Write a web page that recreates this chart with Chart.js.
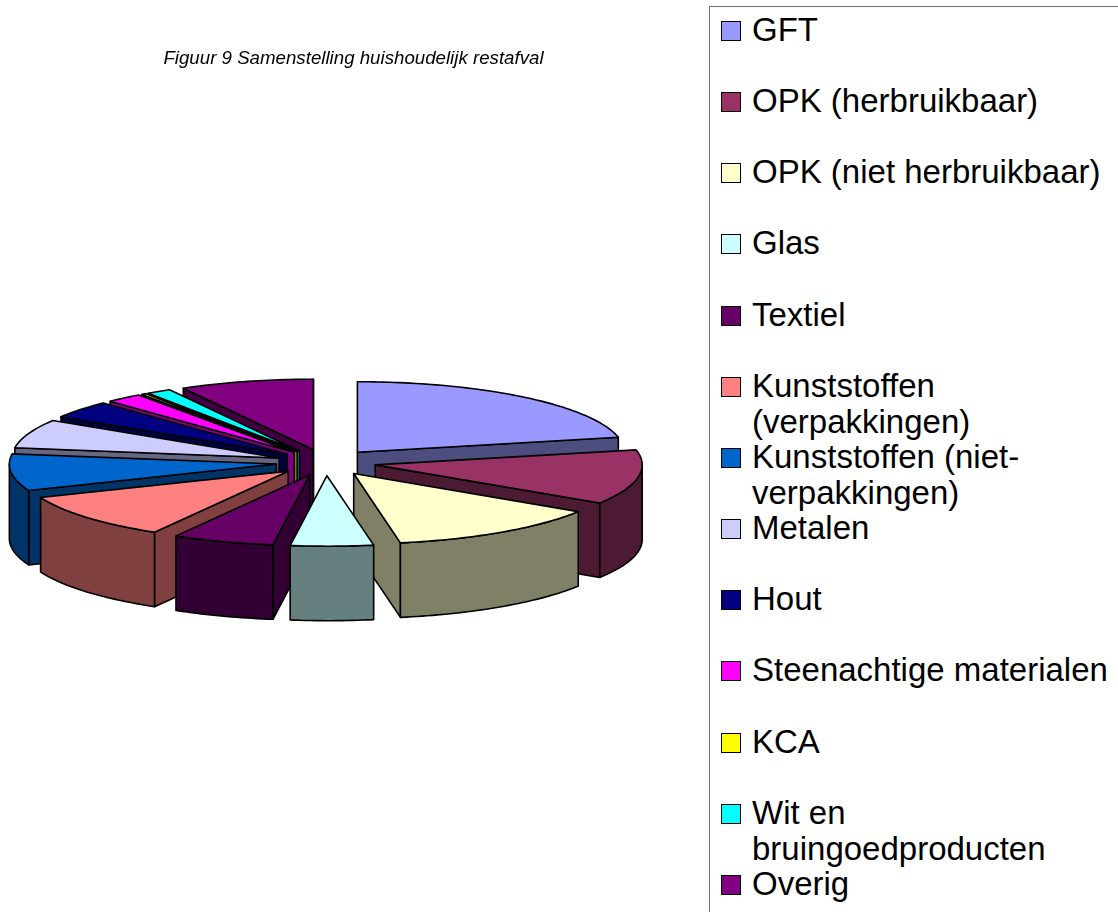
<!DOCTYPE html>
<html>
<head>
<meta charset="utf-8">
<script src="https://cdn.jsdelivr.net/npm/chart.js@4"></script>
<style>
  html, body { margin: 0; padding: 0; background: #fff; overflow: hidden; }
  #wrap { position: relative; width: 1118px; height: 912px; overflow: hidden; }
  #chart-box { position: absolute; left: 0; top: 0; width: 707px; height: 912px; }
  #chart-title {
    position: absolute; left: 0; top: 47px; width: 707px; text-align: center;
    font: italic 18.7px/22px "Liberation Sans", Arial, sans-serif; color: #000;
  }
  #legend-container {
    position: absolute; left: 709px; top: 6px; width: 420px; height: 920px;
    border: 1px solid #707070; box-sizing: border-box;
  }
  .res-li-container { list-style: none; margin: 0; padding: 0; }
  .res-li {
    position: relative; height: 71.17px;
    font-family: "Liberation Sans", Arial, sans-serif; font-size: 33px; line-height: 36px; color: #000;
  }
  .res-box {
    position: absolute; left: 11px; top: 14px; width: 20px; height: 20px;
    border: 1.5px solid #000; box-sizing: border-box;
  }
  .res-text { position: absolute; left: 42px; top: 5px; width: 362px; }
</style>
</head>
<body>
<div id="wrap">
  <div id="chart-box"><canvas id="myChart" width="707" height="912"></canvas></div>
  <div id="chart-title">Figuur 9 Samenstelling huishoudelijk restafval</div>
  <div id="legend-container"></div>
</div>
<script>
const categories = ['GFT', 'OPK (herbruikbaar)', 'OPK (niet herbruikbaar)', 'Glas', 'Textiel',
  'Kunststoffen (verpakkingen)', 'Kunststoffen (niet-verpakkingen)', 'Metalen', 'Hout',
  'Steenachtige materialen', 'KCA', 'Wit en bruingoedproducten', 'Overig'];
const shares = [21.6, 12.5, 13.1, 5, 6.15, 10.55, 8.4, 6.6, 4, 2.2, 0.3, 1.5, 8.1];
const topColors = ['#9999ff', '#993366', '#ffffcc', '#ccffff', '#660066', '#ff8080', '#0066cc',
  '#ccccff', '#000080', '#ff00ff', '#ffff00', '#00ffff', '#800080'];
const sideColors = ['#4d4d80', '#4d1a33', '#808066', '#668080', '#330033', '#804040', '#003366',
  '#666680', '#000040', '#800080', '#808000', '#008080', '#400040'];

const squash = 0.264;  // how flat the pie is seen
const depth = 74.5;    // height of the walls
const explode = 50;    // how far each slice is pulled out

const htmlLegendPlugin = {
  id: 'htmlLegend',
  beforeInit(chart) {
    const ul = document.createElement('ul');
    ul.className = 'res-li-container';
    chart.data.labels.forEach((label, idx) => {
      const li = document.createElement('li');
      li.className = 'res-li';
      const box = document.createElement('span');
      box.className = 'res-box';
      box.style.background = chart.data.datasets[0].backgroundColor[idx];
      const p = document.createElement('span');
      p.className = 'res-text';
      p.textContent = label;
      li.append(box, p);
      ul.appendChild(li);
    });
    document.getElementById('legend-container').appendChild(ul);
  }
};

function fillPoly(ctx, pts, color) {
  ctx.beginPath();
  pts.forEach((p, i) => (i ? ctx.lineTo(p.x, p.y) : ctx.moveTo(p.x, p.y)));
  ctx.closePath();
  ctx.fillStyle = color;
  ctx.fill();
  ctx.stroke();
}

const pie3dPlugin = {
  id: 'pie3d',
  beforeDatasetsDraw(chart) {
    const ctx = chart.ctx;
    const arcs = chart.getDatasetMeta(0).data.map((arc, i) => ({ arc, i }));
    const midOf = a => (a.startAngle + a.endAngle) / 2;
    // far slices first, the one nearest to the viewer last
    arcs.sort((p, q) => Math.abs(midOf(q.arc) - Math.PI / 2) - Math.abs(midOf(p.arc) - Math.PI / 2));

    ctx.save();
    ctx.lineWidth = 1.6;
    ctx.strokeStyle = '#000';
    ctx.lineJoin = 'round';
    arcs.forEach(({ arc, i }) => {
      const a = arc.startAngle, b = arc.endAngle, mid = midOf(arc), r = arc.outerRadius;
      const ox = arc.x + Math.cos(mid) * explode;
      const oy = arc.y + Math.sin(mid) * explode * squash;
      const rim = t => ({ x: ox + Math.cos(t) * r, y: oy + Math.sin(t) * r * squash });
      const low = p => ({ x: p.x, y: p.y + depth });
      const apex = { x: ox, y: oy };
      const side = sideColors[i];

      // cut faces, only the ones turned to the viewer
      if (-Math.cos(a) > 0) fillPoly(ctx, [apex, rim(a), low(rim(a)), low(apex)], side);
      if (Math.cos(b) > 0) fillPoly(ctx, [apex, rim(b), low(rim(b)), low(apex)], side);

      // outer wall, front half of the circle only
      const from = Math.max(a, 0), to = Math.min(b, Math.PI);
      if (to > from) {
        const edge = [];
        for (let t = from; t < to; t += 0.02) edge.push(rim(t));
        edge.push(rim(to));
        fillPoly(ctx, edge.concat(edge.map(low).reverse()), side);
      }

      // top face
      ctx.save();
      ctx.translate(ox, oy);
      ctx.scale(1, squash);
      ctx.translate(-arc.x, -arc.y);
      arc.draw(ctx);
      ctx.restore();

      const outline = [apex];
      for (let t = a; t < b; t += 0.02) outline.push(rim(t));
      outline.push(rim(b));
      ctx.beginPath();
      outline.forEach((p, k) => (k ? ctx.lineTo(p.x, p.y) : ctx.moveTo(p.x, p.y)));
      ctx.closePath();
      ctx.stroke();
    });
    ctx.restore();
    return false;
  }
};

new Chart('myChart', {
  type: 'pie',
  data: {
    labels: categories,
    datasets: [{
      data: shares,
      backgroundColor: topColors,
      borderWidth: 0,
      radius: 267
    }]
  },
  plugins: [htmlLegendPlugin, pie3dPlugin],
  options: {
    responsive: false,
    animation: false,
    layout: { padding: { top: 80, right: 55, bottom: 67 } },
    plugins: {
      tooltip: { enabled: false },
      legend: { display: false },
      title: { display: false }
    }
  }
});
</script>
</body>
</html>
